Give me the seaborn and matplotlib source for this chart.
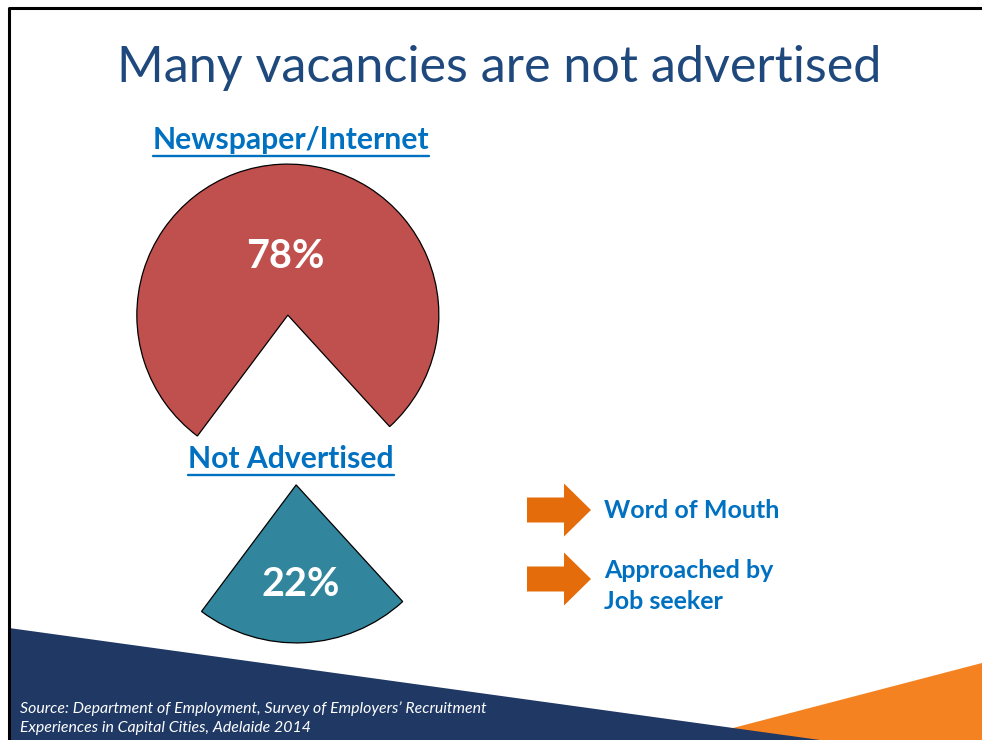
import matplotlib
matplotlib.use("Agg")
import matplotlib.pyplot as plt
import matplotlib.patches as mpatches
import numpy as np
import seaborn as sns

sns.set_theme(style="white")
plt.rcParams['font.family'] = ['Lato', 'DejaVu Sans']

# data
title = "Many vacancies are not advertised"
categories = ["Newspaper/Internet", "Not Advertised"]
shares = [78, 22]
channels = ["Word of Mouth", "Approached by\nJob seeker"]
source = ("Source: Department of Employment, Survey of Employers\u2019 Recruitment\n"
          "Experiences in Capital Cities, Adelaide 2014")

pie_colors = ["#C0504D", "#31859C"]
label_blue = "#0070C0"
navy = "#1F3864"
orange = "#F58220"
arrow_orange = "#E46C0A"

W, H = 982, 740
fig = plt.figure(figsize=(W / 100, H / 100), dpi=100)
ax = fig.add_axes([0, 0, 1, 1])
ax.set_xlim(0, W)
ax.set_ylim(0, H)
ax.axis("off")

# slide decoration
ax.add_patch(mpatches.Polygon([(733, 12), (982, 77), (982, 0), (733, 0)],
                              closed=True, color=orange, lw=0))
ax.add_patch(mpatches.Polygon([(9, 112), (820, 0), (9, 0)],
                              closed=True, color=navy, lw=0))
ax.plot([9, 9, 982], [0, 732, 732], color="black", lw=2.2, solid_capstyle="projecting")

ax.text(499, 672, title, ha="center", va="center", fontsize=36.2,
        color="#1F497D", fontweight="normal")

# exploded pie
radius = 151
center = (292, 340)
wedges, _ = ax.pie(shares, colors=pie_colors, startangle=-47.6, radius=radius,
                   center=center, explode=[85, 85],
                   wedgeprops=dict(edgecolor="black", linewidth=0.9), frame=True)
wedges[1].set_radius(158)
ax.set_xlim(0, W)
ax.set_ylim(0, H)
ax.axis("off")

pct_dist = [0.39, 0.63]
for w, v, d in zip(wedges, shares, pct_dist):
    th = np.deg2rad((w.theta1 + w.theta2) / 2)
    cx, cy = w.center
    ax.text(cx + d * w.r * np.cos(th), cy + d * w.r * np.sin(th), f"{v}%",
            ha="center", va="center", color="white", fontsize=28.5, fontweight="bold")

# category titles (underlined)
label_pos = [(291, 600), (291, 281)]
fig.canvas.draw()
renderer = fig.canvas.get_renderer()
for name, (lx, ly) in zip(categories, label_pos):
    t = ax.text(lx, ly, name, ha="center", va="center", color=label_blue,
                fontsize=21.7, fontweight="bold")
    bb = t.get_window_extent(renderer)
    ax.plot([bb.x0, bb.x1], [ly - 15.5, ly - 15.5], color=label_blue, lw=1.7)

# arrows and channel labels
arrow_y = [230, 161]
text_y = [230, 154]
for ay, ty, txt in zip(arrow_y, text_y, channels):
    ax.add_patch(mpatches.FancyArrow(527, ay, 64, 0, width=25, head_width=53,
                                     head_length=27, length_includes_head=True,
                                     color=arrow_orange, lw=0))
    ax.text(604, ty, txt, ha="left", va="center", color=label_blue,
            fontsize=18, fontweight="bold", linespacing=1.38)

ax.text(20, 22, source, ha="left", va="center", color="white", fontsize=11.4,
        style="italic", linespacing=1.5)

fig.savefig("out.png", dpi=100)
